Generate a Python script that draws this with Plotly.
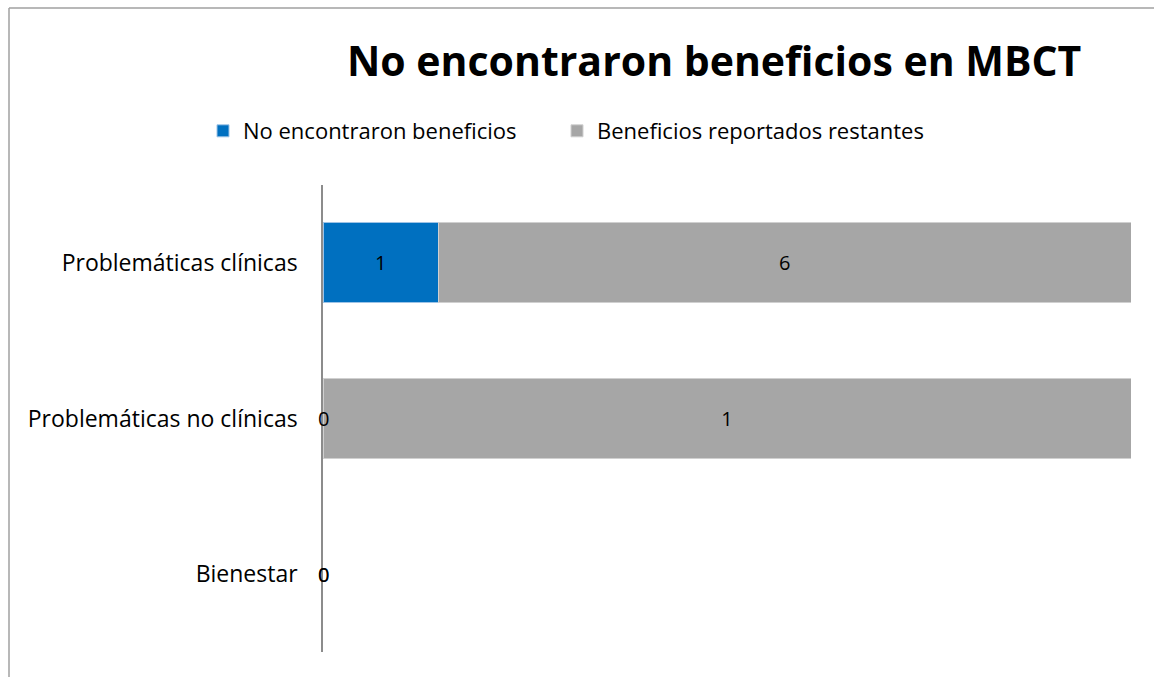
import plotly.graph_objects as go

# Studies per outcome category for MBCT
categories = ["Problemáticas clínicas", "Problemáticas no clínicas", "Bienestar"]
no_benefit = [1, 0, 0]
other_benefits = [6, 1, 0]
series_names = ["No encontraron beneficios", "Beneficios reportados restantes"]
series_colors = ["#0070C0", "#A6A6A6"]
edge_colors = ["#9DC3E6", "#D0D0D0"]
title_text = "No encontraron beneficios en MBCT"

W, H = 1154, 677
L, R, T, B = 323, 23, 185, 25
pw, ph = W - L - R, H - T - B


def px_x(x):
    return (x - L) / pw


def px_y(y):
    return (H - B - y) / ph


font = "Open Sans"
legend_ids = ["legend", "legend2"]
fig = go.Figure()
for name, vals, col, edge, lg in zip(series_names, [no_benefit, other_benefits],
                                     series_colors, edge_colors, legend_ids):
    fig.add_trace(go.Bar(
        y=categories, x=vals, name=name, orientation="h", legend=lg,
        marker=dict(color=col, line=dict(color=edge, width=1)),
        customdata=vals,
        texttemplate=["%{customdata}" if v > 0 else "" for v in vals],
        textposition="inside", insidetextanchor="middle",
        textfont=dict(family=font, size=20, color="#000000"),
        hoverinfo="skip",
    ))

# zero-valued segments still carry a label at the axis
annotations = []
for vals in [no_benefit, other_benefits]:
    for cat, v in zip(categories, vals):
        if v == 0:
            annotations.append(dict(
                x=0, y=cat, xref="x", yref="y", text=str(v), showarrow=False,
                font=dict(family=font, size=20, color="#000000"),
                xanchor="center", yanchor="middle",
            ))

annotations.append(dict(
    text="<b>" + title_text + "</b>", x=px_x(714), y=px_y(60), xref="paper", yref="paper",
    showarrow=False, xanchor="center", yanchor="middle",
    font=dict(family=font, size=41, color="#000000"),
))

shapes = [
    dict(type="line", xref="paper", yref="paper", x0=px_x(9), x1=px_x(9),
         y0=px_y(8), y1=px_y(H + 5), line=dict(color="#A0A0A0", width=1.5)),
    dict(type="line", xref="paper", yref="paper", x0=px_x(9), x1=px_x(W + 5),
         y0=px_y(8), y1=px_y(8), line=dict(color="#A0A0A0", width=1.5)),
]

legend_style = dict(orientation="h", xanchor="left", yanchor="middle",
                    font=dict(family=font, size=22, color="#000000"),
                    itemwidth=30, bgcolor="rgba(0,0,0,0)")

fig.update_layout(
    width=W, height=H, barmode="stack", barnorm="percent", bargap=0.486,
    margin=dict(l=L, r=R, t=T, b=B),
    paper_bgcolor="white", plot_bgcolor="white",
    showlegend=True,
    legend=dict(x=px_x(203), y=px_y(131), **legend_style),
    legend2=dict(x=px_x(557), y=px_y(131), **legend_style),
    xaxis=dict(range=[0, 100], visible=False, fixedrange=True),
    yaxis=dict(autorange="reversed", showline=True, linecolor="#8C8C8C", linewidth=1.5,
               ticks="", ticklabelstandoff=19, showgrid=False,
               tickfont=dict(family=font, size=23, color="#000000")),
    annotations=annotations, shapes=shapes,
)

fig.write_html("out.html")
